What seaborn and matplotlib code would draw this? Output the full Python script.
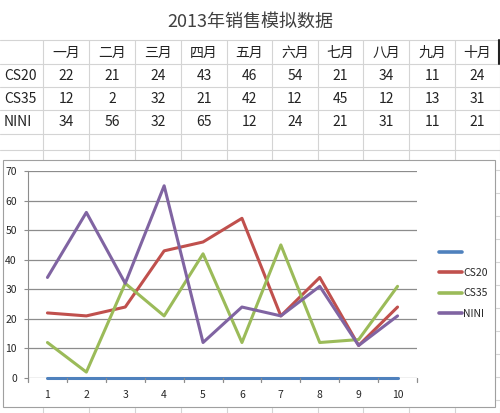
import pandas as pd
import matplotlib.pyplot as plt
import seaborn as sns
from matplotlib.patches import Rectangle
from matplotlib.lines import Line2D

title = '2013年销售模拟数据'
months = ['一月', '二月', '三月', '四月', '五月', '六月', '七月', '八月', '九月', '十月']
x_pos = [1, 2, 3, 4, 5, 6, 7, 8, 9, 10]
blank = [0, 0, 0, 0, 0, 0, 0, 0, 0, 0]
cs20 = [22, 21, 24, 43, 46, 54, 21, 34, 11, 24]
cs35 = [12, 2, 32, 21, 42, 12, 45, 12, 13, 31]
nini = [34, 56, 32, 65, 12, 24, 21, 31, 11, 21]
series_names = [' ', 'CS20', 'CS35', 'NINI']
series_vals = [blank, cs20, cs35, nini]
colors = ['#4F81BD', '#C0504D', '#9BBB59', '#8064A2']

sns.set_style('white')
plt.rcParams['font.family'] = ['Noto Sans CJK SC', 'DejaVu Sans']

W, H = 500, 413
fig = plt.figure(figsize=(5, 4.13), dpi=100)

def fx(px):
    return px / W

def fy(py):
    return 1 - py / H

# spreadsheet grid
grid_c = '#d4d4d4'
col_edges = [43, 89, 135, 181, 227, 272, 318, 363, 409, 455, 500]
row_edges = [40, 64, 87, 110, 134, 150]
for y in row_edges:
    fig.add_artist(Line2D([0, 1], [fy(y), fy(y)], color=grid_c, lw=0.8, zorder=-3))
for x in col_edges:
    fig.add_artist(Line2D([fx(x), fx(x)], [fy(40), fy(160)], color=grid_c, lw=0.8, zorder=-3))
    fig.add_artist(Line2D([fx(x), fx(x)], [fy(408), fy(413)], color=grid_c, lw=0.8, zorder=-3))
for y in range(170, 413, 23):
    fig.add_artist(Line2D([fx(496), 1], [fy(y), fy(y)], color=grid_c, lw=0.8, zorder=-3))
fig.add_artist(Line2D([fx(498.5), fx(498.5)], [fy(40), fy(64)], color='#222222', lw=1.5))

fig.text(0.5, fy(22), title, ha='center', va='center', fontsize=13, color='#404040')
for i, m in enumerate(months):
    cx = (col_edges[i] + col_edges[i + 1]) / 2
    fig.text(fx(cx), fy(53), m, ha='center', va='center', fontsize=10, color='#222222')
row_centers = [76, 99, 122]
for r, (name, vals) in enumerate(zip(series_names[1:], series_vals[1:])):
    fig.text(fx(4), fy(row_centers[r]), name, ha='left', va='center', fontsize=10, color='#222222')
    for i, v in enumerate(vals):
        cx = (col_edges[i] + col_edges[i + 1]) / 2
        fig.text(fx(cx), fy(row_centers[r]), str(v), ha='center', va='center',
                 fontsize=10, color='#222222')

# chart frame
fig.add_artist(Rectangle((fx(3), fy(407)), fx(495) - fx(3), fy(160) - fy(407),
                         facecolor='white', edgecolor='#a0a0a0', lw=0.8, zorder=-2))

ax = fig.add_axes([fx(28), fy(378), fx(417) - fx(28), fy(171) - fy(378)])
ax.set_zorder(2)
rows = []
for name, vals in zip(series_names, series_vals):
    for xv, v in zip(x_pos, vals):
        rows.append({'x': xv, 'value': v, 'series': name})
df = pd.DataFrame(rows)
sns.lineplot(data=df, x='x', y='value', hue='series', palette=colors,
             linewidth=2.2, ax=ax, legend=False, clip_on=False)

ax.set_xlim(0.5, 10.5)
ax.set_ylim(0, 70)
ax.set_yticks(range(0, 71, 10))
ax.set_xticks(x_pos)
ax.set_xticklabels([str(v) for v in x_pos])
ax.set_xlabel('')
ax.set_ylabel('')
for y in range(10, 71, 10):
    ax.axhline(y, color='#8c8c8c', lw=0.9, zorder=0)
for s in ['top', 'right', 'bottom']:
    ax.spines[s].set_visible(False)
ax.spines['left'].set_color('#8c8c8c')
ax.axhline(0, color='#8c8c8c', lw=0.9, zorder=0)
ax.tick_params(axis='y', length=3, color='#8c8c8c', labelsize=7.5, pad=5, left=True)
ax.tick_params(axis='x', length=0, labelsize=7.5, pad=9)
for b in range(11):
    ax.plot([b + 0.5, b + 0.5], [0, -1.3], color='#8c8c8c', lw=0.9, clip_on=False)
ax.set_facecolor('none')

handles = [Line2D([0], [0], color=c, lw=2.6) for c in colors]
fig.legend(handles, series_names, loc='center left', bbox_to_anchor=(fx(430), fy(283)),
           frameon=False, fontsize=7.5, handlelength=2.2, handletextpad=0.1,
           labelspacing=1.0)

fig.savefig('out.png', dpi=100)
